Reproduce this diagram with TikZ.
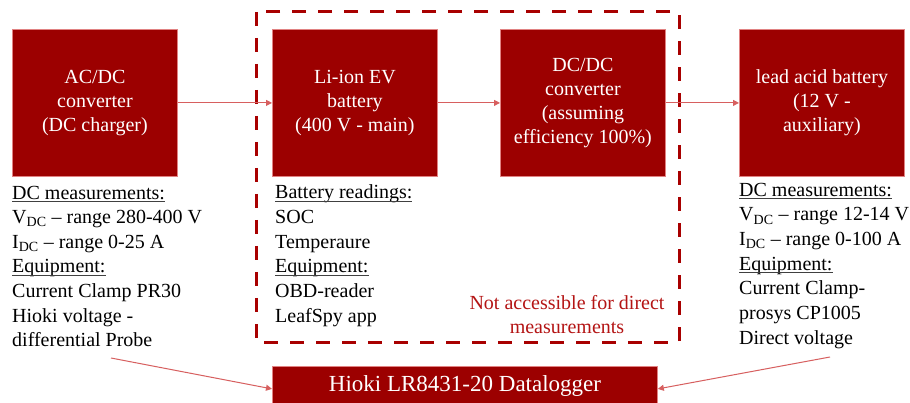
\documentclass[tikz,border=0pt]{standalone}
\usepackage{fontspec}
\setmainfont{Liberation Serif}
\usetikzlibrary{arrows.meta}
\definecolor{boxred}{RGB}{156,0,0}
\definecolor{dashred}{RGB}{168,0,0}
\definecolor{txtred}{RGB}{180,20,20}
\definecolor{arrred}{RGB}{215,95,95}
\definecolor{edgered}{RGB}{225,130,130}
\newsavebox\ulbox
\newcommand\myul[1]{\sbox\ulbox{#1}\rlap{\usebox\ulbox}\textcolor{black!75}{\rule[-2.6pt]{\wd\ulbox}{0.8pt}}}
\tikzset{
  blk/.style={fill=boxred, draw=edgered, line width=0.8pt, text=white, align=center,
    minimum width=165pt, minimum height=147pt, inner sep=0pt, anchor=north west,
    font=\fontsize{20}{24}\selectfont},
  info/.style={align=left, anchor=base west, inner sep=0pt, font=\fontsize{20}{24.6}\selectfont},
  conn/.style={draw=arrred, line width=1pt, -{Triangle[length=6pt,width=6pt]}},
}
\begin{document}
\begin{tikzpicture}[x=1pt,y=-1pt]
\clip (0,0) rectangle (910,403);
\fill[white] (0,0) rectangle (910,403);
% dashed frame
\draw[dashred, line width=3pt, dash pattern=on 14pt off 12pt] (256,12) rectangle (679,342);
% blocks
\node[blk] (acdc) at (12,29) {AC/DC\\converter\\(DC charger)};
\node[blk] (liion) at (272,29) {Li-ion EV\\battery\\(400 V - main)};
\node[blk] (dcdc) at (500,29) {DC/DC\\converter\\(assuming\\efficiency 100\%)};
\node[blk] (lead) at (739,29) {lead acid battery\\(12 V -\\auxiliary)};
\node[fill=boxred, draw=edgered, line width=0.8pt, text=white, minimum width=385pt, minimum height=45pt,
  inner sep=0pt, anchor=north west, font=\fontsize{23}{27}\selectfont] (dl) at (272,366) {};
\node[text=white, font=\fontsize{23}{27}\selectfont, inner sep=0pt] (dltxt) at (465,386) {Hioki LR8431-20 Datalogger};
% flow arrows
\draw[conn] (acdc.east) -- (liion.west);
\draw[conn] (liion.east) -- (dcdc.west);
\draw[conn] (dcdc.east) -- (lead.west);
% info texts (anchored at baseline of last line)
\node[info] (lt) at (12,346.6) {\myul{DC measurements:}\\V\textsubscript{DC} – range 280-400 V\\I\textsubscript{DC} – range 0-25 A\\\myul{Equipment:}\\Current Clamp PR30\\Hioki voltage -\\differential Probe};
\node[info] (mt) at (275,322) {\myul{Battery readings:}\\SOC\\Temperaure\\\myul{Equipment:}\\OBD-reader\\LeafSpy app};
\node[info] (rt) at (739,344) {\myul{DC measurements:}\\V\textsubscript{DC} – range 12-14 V\\I\textsubscript{DC} – range 0-100 A\\\myul{Equipment:}\\Current Clamp-\\prosys CP1005\\Direct voltage};
\node[text=txtred, align=center, inner sep=0pt, font=\fontsize{20}{24}\selectfont] (na) at (567,315) {Not accessible for direct\\measurements};
% to datalogger
\coordinate (ls) at (111,358);
\coordinate (rs) at (830,357);
\draw[conn] (ls) -- (dl.west);
\draw[conn] (rs) -- (dl.east);
\end{tikzpicture}
\end{document}
